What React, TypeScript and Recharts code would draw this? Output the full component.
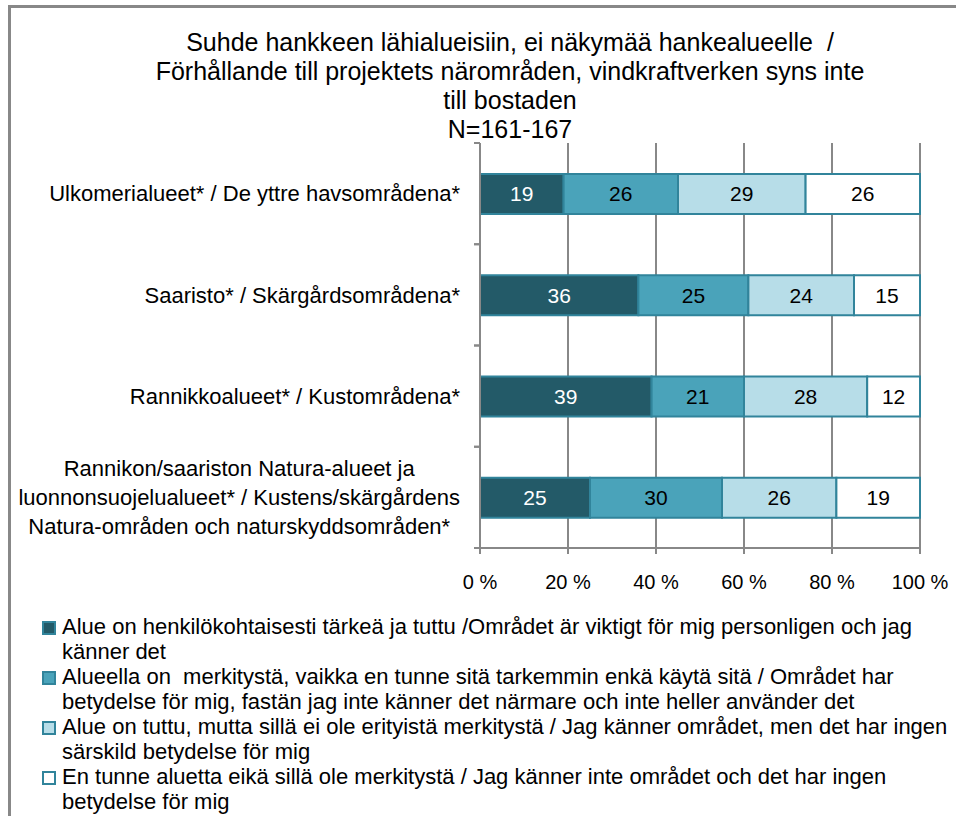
import React from "react";
import {
  BarChart,
  Bar,
  XAxis,
  YAxis,
  CartesianGrid,
  LabelList,
} from "recharts";

const categories = [
  "Ulkomerialueet* / De yttre havsområdena*",
  "Saaristo* / Skärgårdsområdena*",
  "Rannikkoalueet* / Kustområdena*",
  "Rannikon/saariston Natura-alueet ja\nluonnonsuojelualueet* / Kustens/skärgårdens\nNatura-områden och naturskyddsområden*",
];

const importantKnown = [19, 36, 39, 25];
const meaningfulUnknown = [26, 25, 21, 30];
const knownNoMeaning = [29, 24, 28, 26];
const notKnown = [26, 15, 12, 19];

const seriesNames = [
  "Alue on henkilökohtaisesti tärkeä ja tuttu /Området är viktigt för mig personligen och jag\nkänner det",
  "Alueella on  merkitystä, vaikka en tunne sitä tarkemmin enkä käytä sitä / Området har\nbetydelse för mig, fastän jag inte känner det närmare och inte heller använder det",
  "Alue on tuttu, mutta sillä ei ole erityistä merkitystä / Jag känner området, men det har ingen\nsärskild betydelse för mig",
  "En tunne aluetta eikä sillä ole merkitystä / Jag känner inte området och det har ingen\nbetydelse för mig",
];

const seriesColors = ["#235a68", "#4aa3ba", "#b7dde8", "#ffffff"];
const labelColors = ["#ffffff", "#000000", "#000000", "#000000"];
const xTicks = [0, 20, 40, 60, 80, 100];

const titleLines = [
  "Suhde hankkeen lähialueisiin, ei näkymää hankealueelle  /",
  "Förhållande till projektets närområden, vindkraftverken syns inte",
  "till bostaden",
  "N=161-167",
];

const keys = ["s0", "s1", "s2", "s3"];
const data = categories.map((name, i) => ({
  name,
  s0: importantKnown[i],
  s1: meaningfulUnknown[i],
  s2: knownNoMeaning[i],
  s3: notKnown[i],
}));

const FONT = "'Liberation Sans', Arial, sans-serif";
const EDGE = "#31849b";
const GRID = "#888888";

const W = 956;
const H = 816;
const MARGIN = { top: 143, right: 36, bottom: 218, left: 0 };
const Y_AXIS_W = 480;
const X_AXIS_H = 50;
const BAND = (H - MARGIN.top - MARGIN.bottom - X_AXIS_H) / categories.length;
const CAT_FONT = 22;

let ctx: CanvasRenderingContext2D | null = null;
function textWidth(t: string, font: string) {
  if (!ctx) ctx = document.createElement("canvas").getContext("2d");
  if (!ctx) return t.length * 10;
  ctx.font = font;
  return ctx.measureText(t).width;
}

const CategoryTick = (props: any) => {
  const { y, payload } = props;
  const axisX = MARGIN.left + Y_AXIS_W;
  const lines: string[] = String(payload.value).split("\n");
  const lh = 29;
  const right = axisX - 20;
  const widest = Math.max(...lines.map((l) => textWidth(l, `${CAT_FONT}px ${FONT}`)));
  const anchorX = lines.length > 1 ? right - widest / 2 : right;
  const y0 = y - ((lines.length - 1) * lh) / 2;
  return (
    <g>
      <line x1={axisX - 6} x2={axisX} y1={y - BAND / 2} y2={y - BAND / 2} stroke={GRID} strokeWidth={2} />
      <line x1={axisX - 6} x2={axisX} y1={y + BAND / 2} y2={y + BAND / 2} stroke={GRID} strokeWidth={2} />
      {lines.map((l, i) => (
        <text
          key={i}
          x={anchorX}
          y={y0 + i * lh}
          dy="0.35em"
          textAnchor={lines.length > 1 ? "middle" : "end"}
          fontSize={CAT_FONT}
          fontFamily={FONT}
          fill="#000"
        >
          {l}
        </text>
      ))}
    </g>
  );
};

const PercentTick = (props: any) => {
  const { x, y, payload } = props;
  return (
    <text x={x} y={y} dy="0.71em" textAnchor="middle" fontSize={20} fontFamily={FONT} fill="#000">
      {`${payload.value} %`}
    </text>
  );
};

export default function App() {
  return (
    <div style={{ position: "absolute", left: 0, top: 0, width: W, height: H, background: "#fff", overflow: "hidden" }}>
      <div
        style={{
          position: "absolute",
          left: 8,
          top: 5,
          right: 0,
          bottom: 0,
          borderLeft: `3px solid ${GRID}`,
          borderTop: `3px solid ${GRID}`,
        }}
      />
      <div
        style={{
          position: "absolute",
          left: 60,
          width: 900,
          top: 28,
          textAlign: "center",
          fontFamily: FONT,
          fontSize: 25,
          lineHeight: "29px",
          color: "#000",
          whiteSpace: "pre",
        }}
      >
        {titleLines.map((t, i) => (
          <div key={i}>{t}</div>
        ))}
      </div>
      <div style={{ position: "absolute", left: 0, top: 0 }}>
        <BarChart width={W} height={H} data={data} layout="vertical" margin={MARGIN} barSize={40}>
          <CartesianGrid horizontal={false} stroke={GRID} strokeWidth={2} />
          <XAxis
            type="number"
            domain={[0, 100]}
            ticks={xTicks}
            tick={<PercentTick />}
            height={X_AXIS_H}
            axisLine={{ stroke: GRID, strokeWidth: 2 }}
            tickLine={{ stroke: GRID, strokeWidth: 2 }}
            tickSize={6}
            tickMargin={21}
            interval={0}
          />
          <YAxis
            type="category"
            dataKey="name"
            width={Y_AXIS_W}
            tick={<CategoryTick />}
            tickLine={false}
            axisLine={{ stroke: GRID, strokeWidth: 2 }}
            interval={0}
          />
          {keys.map((k, i) => (
            <Bar key={k} dataKey={k} stackId="a" fill={seriesColors[i]} stroke={EDGE} strokeWidth={2} isAnimationActive={false}>
              <LabelList dataKey={k} position="center" fill={labelColors[i]} fontSize={21} fontFamily={FONT} />
            </Bar>
          ))}
        </BarChart>
      </div>
      <div style={{ position: "absolute", left: 42, top: 615, fontFamily: FONT, fontSize: 22, color: "#000" }}>
        {seriesNames.map((n, i) => (
          <div key={i} style={{ display: "flex", alignItems: "flex-start", height: 50 }}>
            <span
              style={{
                width: 10,
                height: 10,
                marginTop: 6,
                marginRight: 6,
                background: seriesColors[i],
                border: `2px solid ${EDGE}`,
                flexShrink: 0,
              }}
            />
            <span style={{ whiteSpace: "pre", lineHeight: "24.5px" }}>{n}</span>
          </div>
        ))}
      </div>
    </div>
  );
}
